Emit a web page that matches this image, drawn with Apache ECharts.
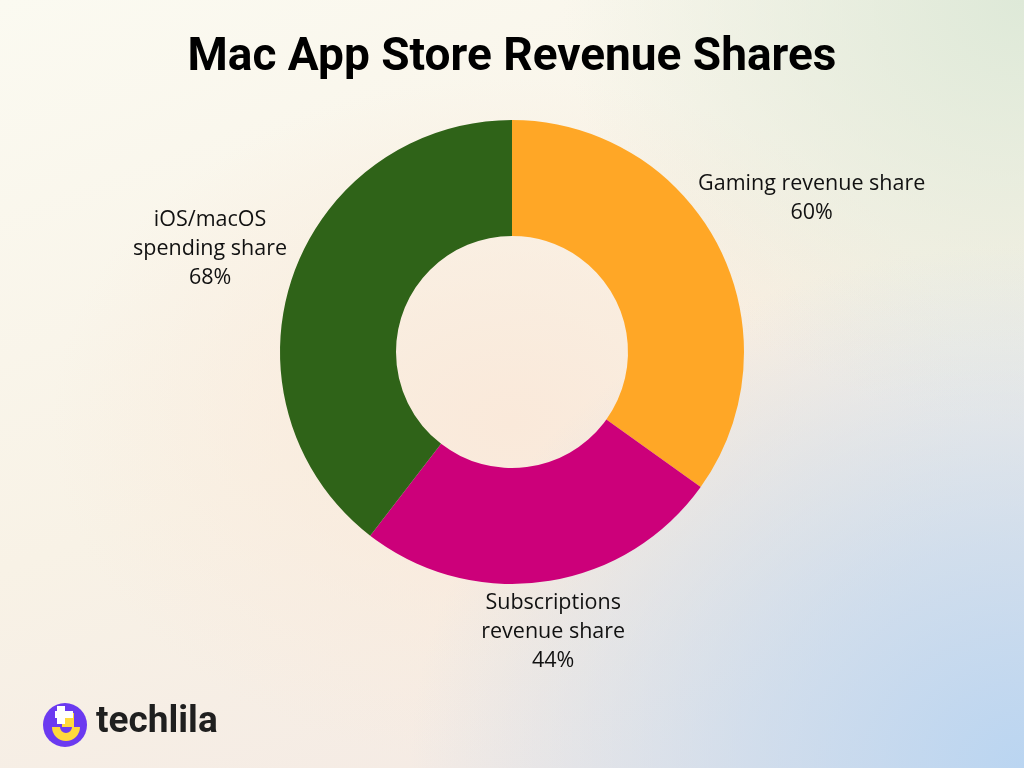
<!DOCTYPE html>
<html>
<head>
<meta charset="utf-8">
<script src="https://cdn.jsdelivr.net/npm/echarts@6/dist/echarts.min.js"></script>
<style>
html,body{margin:0;padding:0;width:1024px;height:768px;overflow:hidden;}
body{
background:
 radial-gradient(ellipse 75% 85% at 100% 100%, rgba(186,213,241,1) 0%, rgba(186,213,241,0.6) 35%, rgba(186,213,241,0) 80%),
 radial-gradient(ellipse 45% 55% at 100% 0%, rgba(222,233,216,1) 0%, rgba(222,233,216,0) 100%),
 radial-gradient(ellipse 45% 45% at 50% 55%, rgba(250,233,218,1) 0%, rgba(250,233,218,0) 100%),
 linear-gradient(160deg, #FBFAF1 0%, #F8F2E6 50%, #F3E7E3 100%);
}
#c{width:1024px;height:768px;}
</style>
</head>
<body>
<div id="c"></div>
<script>
const titleText = 'Mac App Store Revenue Shares';
const categories = ['Gaming revenue share', 'Subscriptions\nrevenue share', 'iOS/macOS\nspending share'];
const values = [60, 44, 68];
const colors = ['#FFA726', '#CC007A', '#2F6318'];

const CX = 512, CY = 352, R_IN = 116, R_OUT = 232;
const LABEL_DIST = [337, 283, 319];
const total = values.reduce((a, b) => a + b, 0);

const chart = echarts.init(document.getElementById('c'), null, {renderer: 'canvas'});
chart.setOption({
  backgroundColor: 'transparent',
  title: {
    text: titleText,
    left: 'center',
    top: 30,
    textStyle: {fontFamily: 'Roboto', fontWeight: 'bold', fontSize: 46, color: '#000'}
  },
  graphic: [
    {type: 'circle', shape: {cx: 65, cy: 725, r: 22}, style: {fill: '#6B3AF0'}},
    {type: 'sector', shape: {cx: 66, cy: 727, r: 14, r0: 6, startAngle: 0, endAngle: Math.PI}, style: {fill: '#FFD93B'}},
    {type: 'rect', shape: {x: 62, y: 713, width: 12, height: 14}, style: {fill: '#FFD93B'}},
    {type: 'rect', shape: {x: 57, y: 706, width: 8, height: 18}, style: {fill: '#ffffff'}},
    {type: 'rect', shape: {x: 55, y: 711, width: 18, height: 7}, style: {fill: '#ffffff'}},
    {type: 'text', left: 96, top: 704, style: {text: 'techlila', font: 'bold 37px Roboto', fill: '#1f1f1f'}}
  ],
  series: [{
    type: 'pie',
    center: [CX, CY],
    radius: [R_IN, R_OUT],
    startAngle: 90,
    clockwise: true,
    silent: true,
    animation: false,
    label: {
      show: true,
      position: 'outside',
      formatter: p => p.name + '\n' + p.value + '%',
      fontFamily: 'Open Sans',
      fontSize: 21.5,
      lineHeight: 29,
      color: '#111',
      align: 'center'
    },
    labelLine: {show: false},
    labelLayout: function (params) {
      const i = params.dataIndex;
      let before = 0;
      for (let k = 0; k < i; k++) before += values[k];
      const mid = (before + values[i] / 2) / total * 2 * Math.PI;
      const ux = Math.sin(mid), uy = -Math.cos(mid);
      const d = LABEL_DIST[i];
      return {x: CX + ux * d, y: CY + uy * d, align: 'center', verticalAlign: 'middle'};
    },
    data: categories.map((n, i) => ({name: n, value: values[i], itemStyle: {color: colors[i]}}))
  }]
});
</script>
</body>
</html>
